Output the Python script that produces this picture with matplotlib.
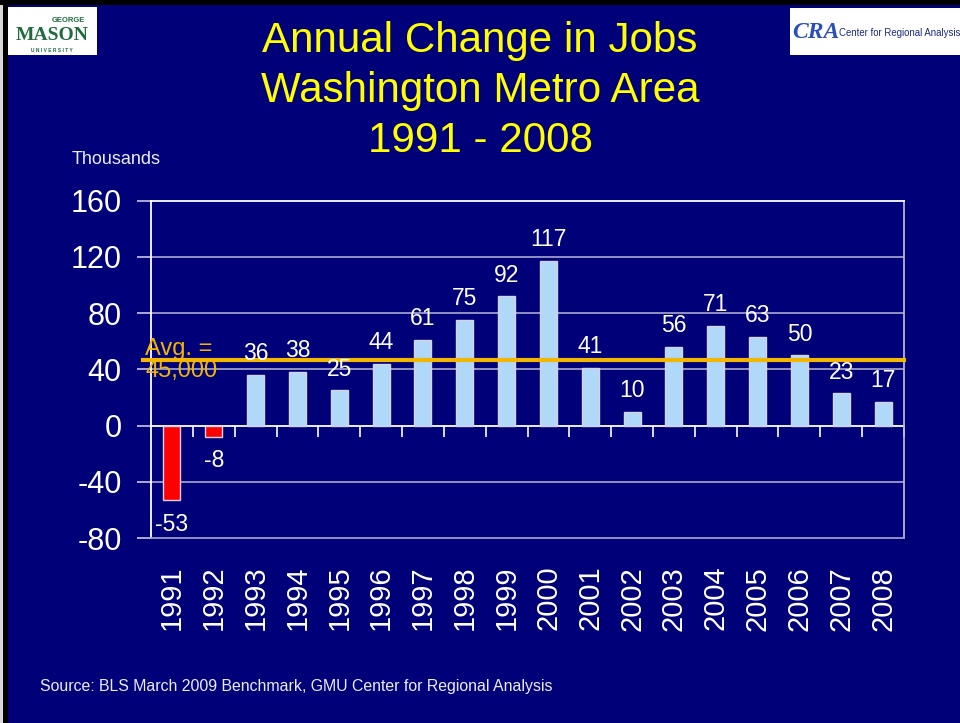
import matplotlib
matplotlib.use("Agg")
import matplotlib.pyplot as plt
from matplotlib.patches import Rectangle

plt.rcParams['font.family'] = ['Liberation Sans', 'DejaVu Sans']

# ---- data ----
years = ['1991', '1992', '1993', '1994', '1995', '1996', '1997', '1998', '1999',
         '2000', '2001', '2002', '2003', '2004', '2005', '2006', '2007', '2008']
changes = [-53, -8, 36, 38, 25, 44, 61, 75, 92, 117, 41, 10, 56, 71, 63, 50, 23, 17]
avg_value = 47
avg_label = 'Avg. =\n45,000'
yticks = [-80, -40, 0, 40, 80, 120, 160]
title_lines = ['Annual Change in Jobs', 'Washington Metro Area', '1991 - 2008']

NAVY = '#000078'
BLUE = '#b0d8f8'
RED = '#ff0000'
GRID = '#9c9cc8'
GOLD = '#f2b600'

W, H = 960, 723
fig = plt.figure(figsize=(W / 100, H / 100), dpi=100, facecolor=NAVY)

def fx(px):
    return px / W

def fy(py):
    return 1 - py / H

# slide border
fig.patches.append(Rectangle((0, 0), fx(2.5), 1, transform=fig.transFigure,
                             facecolor='#d8d8d8', edgecolor='none', zorder=0))
fig.patches.append(Rectangle((fx(2.5), 0), fx(5), 1, transform=fig.transFigure,
                             facecolor='black', edgecolor='none', zorder=0))
fig.patches.append(Rectangle((0, fy(5)), 1, 5 / H, transform=fig.transFigure,
                             facecolor='black', edgecolor='none', zorder=0))

# logos
fig.patches.append(Rectangle((fx(8), fy(55)), fx(89), 48 / H, transform=fig.transFigure,
                             facecolor='white', edgecolor='none', zorder=1))
fig.text(fx(68), fy(21), 'GEORGE', color='#1e6b3c', fontsize=5.5, fontweight='bold',
         ha='center', va='center')
fig.text(fx(52), fy(36), 'MASON', color='#1e6b3c', fontsize=14, fontweight='bold',
         ha='center', va='center', family=['Liberation Serif', 'DejaVu Serif'])
fig.text(fx(52), fy(50), 'U N I V E R S I T Y', color='#1e6b3c', fontsize=3.5,
         ha='center', va='center', fontweight='bold')

fig.patches.append(Rectangle((fx(790), fy(55)), fx(170), 47 / H, transform=fig.transFigure,
                             facecolor='white', edgecolor='none', zorder=1))
fig.text(fx(792), fy(32), 'CRA', color='#2a4fb8', fontsize=17, fontweight='bold',
         ha='left', va='center', style='italic', family=['Liberation Serif', 'DejaVu Serif'])
fig.text(fx(839), fy(33), 'Center for Regional Analysis', color='#1a2a80', fontsize=6.9,
         ha='left', va='center')

# title
for i, line in enumerate(title_lines):
    fig.text(0.5, fy(41 + 50 * i), line, color='#ffff00', fontsize=30.3,
             ha='center', va='center')

fig.text(fx(72), fy(160), 'Thousands', color='#ececf4', fontsize=13, ha='left', va='center')
fig.text(fx(40), fy(687), 'Source: BLS March 2009 Benchmark, GMU Center for Regional Analysis',
         color='#ececf4', fontsize=11.4, ha='left', va='center')

# axes
ax = fig.add_axes([fx(151), fy(538), fx(904 - 151), (538 - 200.7) / H])
ax.set_facecolor(NAVY)
x = list(range(len(years)))
colors = [RED if v < 0 else BLUE for v in changes]
ax.bar(x, changes, width=0.41, color=colors, edgecolor='#d4d4e4', linewidth=1.0, zorder=3)
ax.set_xlim(-0.5, len(years) - 0.5)
ax.set_ylim(yticks[0], yticks[-1])
ax.set_yticks(yticks)
ax.set_yticklabels([str(t) for t in yticks])
for t in yticks[1:-1]:
    if t != 0:
        ax.axhline(t, color=GRID, linewidth=1.3, zorder=1)

ax.tick_params(axis='y', colors='#c8c8e0', length=10, width=1.2, labelsize=22,
               labelcolor='white', pad=11)
ax.set_xticks(x)
ax.set_xticklabels(years, rotation=90, fontsize=21, color='white')
ax.tick_params(axis='x', length=0, pad=20)

ax.spines['left'].set_color('white')
ax.spines['left'].set_linewidth(1.3)
ax.spines['top'].set_color('white')
ax.spines['top'].set_linewidth(1.3)
ax.spines['right'].set_color('#b4b4d4')
ax.spines['right'].set_linewidth(1.3)
ax.spines['bottom'].set_color(GRID)
ax.spines['bottom'].set_linewidth(1.3)

# zero line with category boundary ticks
zero_frac = (0 - yticks[0]) / (yticks[-1] - yticks[0])
sec = ax.secondary_xaxis(zero_frac)
sec.set_xticks([i + 0.5 for i in range(len(years) - 1)] + [len(years) - 0.5])
sec.set_xticklabels([])
sec.tick_params(axis='x', direction='out', length=8, width=1.2, colors='white')
sec.spines['bottom'].set_color('white')
sec.spines['bottom'].set_linewidth(1.3)
sec.spines['bottom'].set_zorder(4)

# average line
ax.axhline(avg_value, xmin=-8 / 753, xmax=1, color=GOLD, linewidth=3, zorder=4, clip_on=False)
ax.text(-6 / 753, avg_value, avg_label, transform=ax.get_yaxis_transform(),
        color=GOLD, fontsize=17, ha='left', va='center', linespacing=1.0, zorder=5)

# value labels
for xi, v in zip(x, changes):
    if v >= 0:
        ax.annotate(str(v), (xi, v), xytext=(0, 7), textcoords='offset points',
                    ha='center', va='bottom', color='white', fontsize=16.5, zorder=6)
    else:
        ax.annotate(str(v), (xi, v), xytext=(0, -9), textcoords='offset points',
                    ha='center', va='top', color='white', fontsize=16.5, zorder=6)

fig.savefig('out.png', dpi=100, facecolor=NAVY)
